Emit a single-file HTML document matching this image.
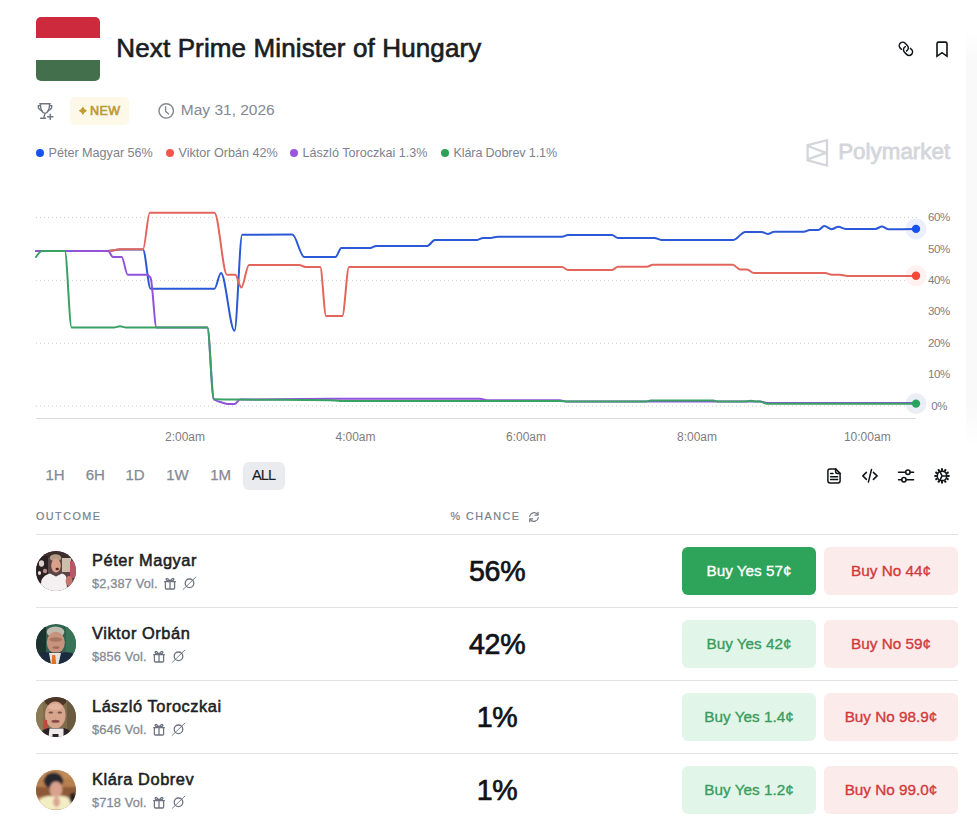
<!DOCTYPE html>
<html lang="en">
<head>
<meta charset="utf-8">
<title>Next Prime Minister of Hungary</title>
<style>
*{box-sizing:border-box;margin:0;padding:0}
html,body{width:977px;height:824px;overflow:hidden;background:#fff}
body{position:relative;font-family:"Liberation Sans",Arial,sans-serif;color:#1a1d23}
.abs{position:absolute}
svg{display:block}
.chart{position:absolute;left:0;top:0}
.flag{position:absolute;left:36px;top:17px;width:64px;height:64px;border-radius:5px;overflow:hidden}
.flag i{display:block;height:21.34px}
.title{position:absolute;left:116.3px;top:33.3px;font-size:26px;line-height:30px;font-weight:400;white-space:nowrap;letter-spacing:0.13px;-webkit-text-stroke:0.65px #1a1d23;color:#1a1d23}
.badge{position:absolute;left:70px;top:97px;width:59px;height:28px;border-radius:5px;background:#fdf8e7}
.badge span{position:absolute;left:20.1px;top:7px;font-size:12.5px;line-height:14px;font-weight:400;color:#b99a3c;letter-spacing:0.35px;-webkit-text-stroke:0.65px #b99a3c}
.date{position:absolute;left:180.8px;top:100.8px;font-size:15.5px;line-height:18px;color:#838893}
.legend{position:absolute;top:146px;font-size:12.6px;line-height:14px;color:#7d828e;white-space:nowrap}
.legend b{position:absolute;left:0;top:3px;width:8px;height:8px;border-radius:50%}
.legend span{position:absolute;left:12.5px;top:0}
.pm{position:absolute;left:838.2px;top:140.3px;font-size:22.4px;line-height:24px;font-weight:400;color:#d4d6db;letter-spacing:0px;-webkit-text-stroke:0.8px #d4d6db}
.tf{position:absolute;top:462px;width:40px;height:28px;font-size:15px;line-height:26.8px;text-align:center;color:#858a94;-webkit-text-stroke:0.25px currentColor}
.tf.on{background:#e9ebee;border-radius:6px;color:#1a1d23;width:42px;left:243px;font-size:14.6px;letter-spacing:-0.9px;text-indent:-0.9px;-webkit-text-stroke:0.15px #1a1d23}
.hdr{position:absolute;top:509.5px;font-size:10.8px;line-height:13px;letter-spacing:1.45px;color:#7a7f8b;font-weight:400;-webkit-text-stroke:0.2px #7a7f8b}
.hr{position:absolute;left:36px;width:922px;height:1px;background:#e3e3e5}
.row .name{position:absolute;left:92px;font-size:16.4px;line-height:19px;font-weight:400;color:#1b1e24;letter-spacing:0.55px;white-space:nowrap;-webkit-text-stroke:0.55px #1b1e24}
.row .vol{position:absolute;left:92px;font-size:12.8px;line-height:15px;color:#858a94;white-space:nowrap;letter-spacing:0.15px;-webkit-text-stroke:0.3px #858a94}
.row .pct{position:absolute;left:397.3px;width:200px;text-align:center;font-size:28.6px;line-height:32px;color:#111318;letter-spacing:-0.35px;text-indent:-0.35px;-webkit-text-stroke:0.7px #111318}
.btn{position:absolute;width:134px;height:48px;border-radius:6px;text-align:center;font-size:15.3px;line-height:48px;font-weight:400;-webkit-text-stroke:0.35px currentColor}
.yes{left:682px;background:#e1f6e9;color:#389c5e}
.yes.solid{background:#2ea35a;color:#fff}
.no{left:824px;background:#fbebea;color:#d3393c}
.row .vol{display:flex;align-items:flex-start}
.vol svg{display:block;flex:none;fill:none;stroke:#6f7481;stroke-width:1.3;stroke-linecap:round;stroke-linejoin:round}
.vol .gi{margin-left:6.6px;margin-top:0.7px}
.vol .si{margin-left:4.3px;margin-top:0.4px}
.av{position:absolute;left:36px;width:40px;height:40px;border-radius:50%;overflow:hidden}
</style>
</head>
<body>

<div class="abs" style="left:966px;top:28px;width:11px;height:420px;background:linear-gradient(to bottom,rgba(0,0,0,0),rgba(0,0,0,0.022) 8%,rgba(0,0,0,0.022) 90%,rgba(0,0,0,0))"></div>
<!-- Header -->
<div class="flag"><i style="background:#cd2a3e"></i><i style="background:#fff"></i><i style="background:#436f4d"></i></div>
<div class="title">Next Prime Minister of Hungary</div>

<svg class="abs" style="left:0;top:0" width="977" height="200" viewBox="0 0 977 200">
  <!-- link icon -->
  <g fill="none" stroke="#111317" stroke-width="1.5" stroke-linecap="round" stroke-linejoin="round">
    <path transform="translate(903.8,46.8) rotate(45)" d="M0,3.45 L-1.55,3.45 A3.45,3.45 0 0 1 -1.55,-3.45 L1.55,-3.45 A3.45,3.45 0 0 1 4.83,1.07"/>
    <path transform="translate(908,50.85) rotate(45)" d="M0,-3.45 L1.55,-3.45 A3.45,3.45 0 0 1 1.55,3.45 L-1.55,3.45 A3.45,3.45 0 0 1 -4.83,-1.07"/>
  </g>
  <!-- bookmark -->
  <path d="M937,56.3 V43.7 Q937,42.1 938.6,42.1 H945.4 Q947,42.1 947,43.7 V56.3 L942,52.7 Z" fill="none" stroke="#0f1114" stroke-width="1.6" stroke-linejoin="miter"/>
  <!-- trophy with plus -->
  <g fill="none" stroke="#707582" stroke-width="1.4" stroke-linecap="round" stroke-linejoin="round">
    <path d="M39.8,103.8 H50.2 M40.4,104 C40.4,109.8 42.6,113.4 45,113.4 C47.4,113.4 49.6,109.8 49.6,104"/>
    <path d="M40.2,105.6 H38.2 Q38,109.6 42.2,110.8 M49.8,105.6 H51.8 Q52,109.6 47.8,110.8"/>
    <path d="M45,113.6 L43.6,118.1 M40.6,118.2 H45.6"/>
    <path d="M47.6,116.7 H52.9 M50.25,114.1 V119.4"/>
  </g>
    <!-- clock -->
  <g fill="none" stroke="#838893" stroke-width="1.4" stroke-linecap="round" stroke-linejoin="round">
    <circle cx="166.2" cy="110.9" r="7.2"/>
    <path d="M165.6,106.6 V111.2 L168.6,113.9"/>
  </g>
  <!-- polymarket logo -->
  <g fill="none" stroke="#d4d6db" stroke-width="2.3" stroke-linejoin="miter">
    <path d="M807.6,145.2 L827,140.2 V165.6 L807.6,160.3 Z"/>
    <path d="M807.6,146 L826,152.8 L807.6,159.4" stroke-linejoin="round"/>
  </g>
</svg>

<div class="abs badge"><svg width="59" height="28" viewBox="70 97 59 28" style="position:absolute;left:0;top:0"><path d="M82.9,106.6 Q84.2,109.5 87.1,110.8 Q84.2,112.1 82.9,115 Q81.6,112.1 78.7,110.8 Q81.6,109.5 82.9,106.6 Z" fill="#bf9c36"/></svg><span>NEW</span></div>
<div class="date">May 31, 2026</div>

<div class="legend" style="left:36px"><b style="background:#1652f0"></b><span>Péter Magyar 56%</span></div>
<div class="legend" style="left:166px"><b style="background:#f0564a"></b><span>Viktor Orbán 42%</span></div>
<div class="legend" style="left:290px"><b style="background:#9b56e0"></b><span>László Toroczkai 1.3%</span></div>
<div class="legend" style="left:441px"><b style="background:#2f9f5a"></b><span style="letter-spacing:-0.13px">Klára Dobrev 1.1%</span></div>
<div class="pm">Polymarket</div>

<svg class="chart" width="977" height="460" viewBox="0 0 977 460">
<g stroke="#c9cbd0" stroke-width="1" stroke-dasharray="1 3"><line x1="36" x2="918" y1="217.4" y2="217.4"/><line x1="36" x2="918" y1="280.3" y2="280.3"/><line x1="36" x2="918" y1="343.2" y2="343.2"/><line x1="36" x2="918" y1="406.1" y2="406.1"/></g>
<line x1="36" x2="916" y1="418.5" y2="418.5" stroke="#dcdcdd" stroke-width="1"/>
<circle cx="916" cy="228.9" r="10.5" fill="#ebeffb"/><circle cx="916" cy="275.8" r="10.5" fill="#fef1ef"/><circle cx="916" cy="403.6" r="10.5" fill="#eceef5"/>
<g fill="none" stroke-width="2" stroke-linejoin="round" stroke-linecap="round"><path d="M36.0,251.0C60.0,251.0 84.0,251.0 108.0,251.0C112.0,251.0 116.0,249.4 120.0,249.4C127.7,249.4 135.3,249.4 143.0,249.4C145.5,249.4 148.1,288.7 150.6,288.7C171.9,288.7 193.2,288.7 214.5,288.7C216.7,288.7 218.8,273.0 221.0,273.0C225.5,273.0 230.0,330.8 234.5,330.8C237.1,330.8 239.6,234.8 242.2,234.8C258.9,234.7 275.6,234.6 292.3,234.6C296.3,234.6 300.2,256.9 304.2,256.9C314.6,256.9 325.1,256.9 335.5,256.9C337.5,256.9 339.4,248.0 341.4,248.0C351.0,248.0 360.7,248.0 370.3,248.0C372.3,248.0 374.2,245.9 376.2,245.9C393.2,245.9 410.2,245.9 427.2,245.9C429.8,245.9 432.3,240.1 434.9,240.1C449.0,240.0 463.1,240.0 477.2,239.9C479.1,239.9 481.1,237.9 483.0,237.9C485.6,237.9 488.2,237.9 490.8,237.9C493.1,237.9 495.3,236.7 497.6,236.7C519.1,236.7 540.5,236.7 562.0,236.7C564.0,236.7 566.0,235.0 568.0,235.0C582.7,235.0 597.3,235.0 612.0,235.0C614.0,235.0 616.0,237.9 618.0,237.9C630.2,237.9 642.3,237.9 654.5,237.9C656.8,237.9 659.0,239.9 661.3,239.9C685.3,239.9 709.4,239.9 733.4,239.9C737.4,239.9 741.3,231.9 745.3,231.9C750.7,231.9 756.0,231.9 761.4,231.9C763.5,231.9 765.6,234.0 767.7,234.0C769.9,234.0 772.0,231.8 774.2,231.8C784.1,231.8 794.0,231.8 803.9,231.8C805.9,231.8 807.8,230.0 809.8,230.0C812.6,230.0 815.5,230.0 818.3,230.0C820.3,230.0 822.3,226.0 824.3,226.0C826.7,226.0 829.2,229.2 831.6,229.2C833.9,229.2 836.1,226.8 838.4,226.8C840.8,226.8 843.1,228.9 845.5,228.9C855.4,228.9 865.4,228.9 875.3,228.9C877.5,228.9 879.8,226.6 882.0,226.6C884.0,226.6 886.1,229.2 888.1,229.2C897.4,229.2 906.7,229.1 916.0,228.9" stroke="#2a58d6"/><path d="M36.0,251.0C60.0,251.0 84.0,251.0 108.0,251.0C112.0,251.0 116.0,249.3 120.0,249.3C127.7,249.3 135.3,249.3 143.0,249.3C145.3,249.3 147.5,212.7 149.8,212.7C171.4,212.7 192.9,212.7 214.5,212.7C218.7,212.7 222.8,274.7 227.0,274.7C229.8,274.7 232.6,274.7 235.4,274.7C237.4,274.7 239.3,287.5 241.3,287.5C243.9,287.5 246.4,264.9 249.0,264.9C265.7,264.9 282.3,264.9 299.0,264.9C301.3,264.9 303.7,267.1 306.0,267.1C310.7,267.1 315.5,267.1 320.2,267.1C322.2,267.1 324.1,316.0 326.1,316.0C331.5,316.0 336.9,316.0 342.3,316.0C344.5,316.0 346.8,267.1 349.0,267.1C420.0,267.1 491.0,267.1 562.0,267.1C564.0,267.1 566.0,270.0 568.0,270.0C582.7,270.0 597.3,270.0 612.0,270.0C614.0,270.0 616.0,266.8 618.0,266.8C627.6,266.8 637.3,266.8 646.9,266.8C648.9,266.8 650.9,264.7 652.9,264.7C679.5,264.7 706.1,264.7 732.7,264.7C735.2,264.7 737.7,269.6 740.2,269.6C742.5,269.6 744.7,269.6 747.0,269.6C749.3,269.6 751.5,273.0 753.8,273.0C777.6,273.0 801.3,273.0 825.1,273.0C827.4,273.0 829.6,274.7 831.9,274.7C834.5,274.7 837.0,274.7 839.6,274.7C842.1,274.7 844.7,275.9 847.2,275.9C870.1,275.9 893.1,275.9 916.0,275.9" stroke="#e3665d"/><path d="M36.0,251.0C60.0,251.0 84.0,251.0 108.0,251.0C109.7,251.0 111.3,257.0 113.0,257.0C115.9,257.0 118.8,257.0 121.7,257.0C123.7,257.0 125.7,274.7 127.7,274.7C134.1,274.7 140.6,274.7 147.0,274.7C148.2,274.7 149.4,275.8 150.6,278.0C152.6,281.6 154.5,327.4 156.5,327.4C173.5,327.4 190.4,327.4 207.4,327.4C209.5,327.4 211.7,397.6 213.8,399.3C216.5,401.4 219.3,401.7 222.0,402.5C224.0,403.1 226.0,404.0 228.0,404.0C230.2,404.0 232.3,404.0 234.5,404.0C236.3,404.0 238.2,399.6 240.0,399.6C270.0,399.1 300.0,398.8 330.0,398.8C380.0,398.8 430.0,398.8 480.0,398.8C482.3,398.8 484.7,400.3 487.0,400.3C511.2,400.3 535.3,400.3 559.5,400.3C562.0,400.3 564.5,401.5 567.0,401.5C631.3,401.5 695.7,401.5 760.0,401.5C762.3,401.5 764.7,402.9 767.0,402.9C816.7,402.9 866.3,402.9 916.0,402.9" stroke="#9152dc"/><path d="M36.0,257.0C38.0,254.0 40.0,251.0 42.0,251.0C49.6,251.0 57.2,251.0 64.8,251.0C67.1,251.0 69.3,327.4 71.6,327.4C85.7,327.4 99.9,327.4 114.0,327.4C116.0,327.4 118.0,326.3 120.0,326.3C122.0,326.3 124.0,327.4 126.0,327.4C153.1,327.4 180.3,327.4 207.4,327.4C209.5,327.4 211.7,399.3 213.8,399.3C222.5,399.5 231.3,399.5 240.0,399.6C270.0,399.9 300.0,399.8 330.0,400.2C333.3,400.2 336.7,400.9 340.0,400.9C413.3,400.9 486.7,400.9 560.0,400.9C562.3,400.9 564.7,401.6 567.0,401.6C593.0,401.6 619.0,401.6 645.0,401.6C647.0,401.6 649.0,400.6 651.0,400.6C671.7,400.6 692.3,400.6 713.0,400.6C715.0,400.6 717.0,401.6 719.0,401.6C727.3,401.6 735.7,401.6 744.0,401.6C746.3,401.6 748.7,400.8 751.0,400.8C753.0,400.8 755.0,401.6 757.0,401.6C758.0,401.6 759.0,401.6 760.0,401.6C762.3,401.6 764.7,403.8 767.0,403.8C816.7,403.8 866.3,403.8 916.0,403.8" stroke="#38a163"/></g>
<circle cx="916" cy="228.9" r="4.2" fill="#1652f0"/>
<circle cx="916" cy="275.8" r="4.2" fill="#f4483a"/>
<circle cx="916" cy="403.6" r="4.2" fill="#2aa35d"/>
<g font-size="11.5" fill="#7d7d7f" letter-spacing="-0.35"><text x="928" y="221.0">60%</text><text x="928" y="252.5">50%</text><text x="928" y="283.9">40%</text><text x="928" y="315.4">30%</text><text x="928" y="346.8">20%</text><text x="928" y="378.3">10%</text><text x="931.2" y="409.7">0%</text></g>
<g font-size="12" fill="#7d7d7f"><text x="185" y="441" text-anchor="middle">2:00am</text><text x="355.5" y="441" text-anchor="middle">4:00am</text><text x="526" y="441" text-anchor="middle">6:00am</text><text x="697" y="441" text-anchor="middle">8:00am</text><text x="867.3" y="441" text-anchor="middle">10:00am</text></g>
</svg>

<!-- timeframe -->
<div class="tf" style="left:35px">1H</div>
<div class="tf" style="left:75.3px">6H</div>
<div class="tf" style="left:115px">1D</div>
<div class="tf" style="left:157.4px">1W</div>
<div class="tf" style="left:200.7px">1M</div>
<div class="tf on">ALL</div>

<svg class="abs" style="left:0;top:0" width="977" height="540" viewBox="0 0 977 540">
  <g fill="none" stroke="#111317" stroke-width="1.5" stroke-linecap="round" stroke-linejoin="round">
    <!-- doc -->
    <path d="M835.6,468.9 H830 Q827.9,468.9 827.9,471 V480.8 Q827.9,482.9 830,482.9 H838 Q840.1,482.9 840.1,480.8 V473.4 Z"/>
    <path d="M835.6,469 V471.6 Q835.6,473.4 837.4,473.4 H840" />
    <path d="M830.6,473.6 H833 M830.6,476.7 H837.6 M830.6,479.6 H837.6"/>
    <!-- code -->
    <path d="M866.4,472.4 L862.8,475.9 L866.4,479.4 M873.4,472.4 L877.1,475.9 L873.4,479.4 M871.5,469.5 L868.4,482.1"/>
    <!-- sliders -->
    <path d="M898.5,472.3 H905.7 M910.1,472.3 H913.6 M898.5,479.7 H901.7 M906.1,479.7 H913.6"/>
    <circle cx="907.9" cy="472.3" r="2.2"/>
    <circle cx="903.9" cy="479.7" r="2.2"/>
    <!-- gear -->
    <circle cx="942" cy="475.9" r="4.75" stroke-width="1.6"/>
    <path d="M939.9,471.4 L942,475.9 L939.9,480.4 M942,475.9 H946.8"/>
  </g>
  <g stroke="#111317" stroke-width="2">
    <path d="M947.20,475.90 L949.60,475.90 M946.50,478.50 L948.58,479.70 M944.60,480.40 L945.80,482.48 M942.00,481.10 L942.00,483.50 M939.40,480.40 L938.20,482.48 M937.50,478.50 L935.42,479.70 M936.80,475.90 L934.40,475.90 M937.50,473.30 L935.42,472.10 M939.40,471.40 L938.20,469.32 M942.00,470.70 L942.00,468.30 M944.60,471.40 L945.80,469.32 M946.50,473.30 L948.58,472.10"/>
  </g>
  <!-- refresh icon -->
  <g fill="none" stroke="#777c88" stroke-width="1.3" stroke-linecap="round" stroke-linejoin="round">
    <path d="M529.67,516.24 A4.4,4.4 0 0 1 537.37,514.17 M538.33,517.76 A4.4,4.4 0 0 1 530.63,519.83"/>
    <path d="M538,512.3 V515.2 H535.1 M529.8,521.7 V518.8 H532.7"/>
  </g>
</svg>

<div class="hdr" style="left:36px">OUTCOME</div>
<div class="hdr" style="left:450.5px">% CHANCE</div>
<div class="hr" style="top:534px"></div>

<!-- rows -->
<div class="row">
  <div class="av" style="top:551px">
    <svg width="40" height="40" viewBox="0 0 40 40"><defs><filter id="b1" x="-20%" y="-20%" width="140%" height="140%"><feGaussianBlur stdDeviation="0.7"/></filter></defs>
      <rect width="40" height="40" fill="#5a4546"/>
      <g filter="url(#b1)">
        <rect x="-2" y="-2" width="44" height="9" fill="#3c2e2e"/>
        <rect x="-2" y="5" width="14" height="27" fill="#2c2022"/>
        <ellipse cx="5.5" cy="12.5" rx="2.6" ry="3.2" fill="#ddd0d0"/>
        <ellipse cx="9" cy="20" rx="2.2" ry="2.2" fill="#b48a88"/>
        <ellipse cx="3.5" cy="22" rx="1.6" ry="2" fill="#e6dada"/>
        <rect x="26" y="7" width="9" height="14" fill="#cfbdac"/>
        <rect x="34" y="10" width="7" height="17" fill="#b65868"/>
        <ellipse cx="19.5" cy="6.8" rx="5.8" ry="3.6" fill="#b39c86"/>
        <ellipse cx="20" cy="14.6" rx="4.8" ry="7" fill="#dba08a"/>
        <ellipse cx="21.2" cy="18" rx="1.7" ry="1.3" fill="#5a2424"/>
        <path d="M4,40 L5.5,29 Q8,24 14,22.6 L20,25.5 L26,22.6 Q30,24 30.5,27 L31,40 Z" fill="#f4eff1"/>
        <ellipse cx="33" cy="30" rx="3.4" ry="5" fill="#c4766a"/>
      </g>
    </svg>
  </div>
  <div class="name" style="top:550.5px">Péter Magyar</div>
  <div class="vol" style="top:576.1px"><span>$2,387 Vol.</span><svg class="gi" width="13" height="13" viewBox="164 577 13 13"><path d="M164.6,581.7 H175.4 M165.4,581.7 V588 Q165.4,589 166.4,589 H173.6 Q174.6,589 174.6,588 V581.7 M170,581.7 V589"/><path d="M170,581.4 Q167.5,577.4 166.2,579 Q165.6,580.6 170,581.4 Q172.5,577.4 173.8,579 Q174.4,580.6 170,581.4"/></svg><svg class="si" width="15" height="15" viewBox="181.5 576.5 15 15"><circle cx="189" cy="583.8" r="4.3"/><path d="M182.6,590 L195.4,577.6" stroke-width="0.9"/></svg></div>
  <div class="pct" style="top:554.5px">56%</div>
  <div class="btn yes solid" style="top:547px">Buy Yes 57¢</div>
  <div class="btn no" style="top:547px">Buy No 44¢</div>
</div>
<div class="hr" style="top:607px"></div>

<div class="row">
  <div class="av" style="top:624px">
    <svg width="40" height="40" viewBox="0 0 40 40"><defs><filter id="b2" x="-20%" y="-20%" width="140%" height="140%"><feGaussianBlur stdDeviation="0.7"/></filter></defs>
      <rect width="40" height="40" fill="#2f634e"/>
      <g filter="url(#b2)">
        <rect x="-2" y="-2" width="12" height="44" fill="#1c332e"/>
        <rect x="30" y="-2" width="12" height="30" fill="#3a7358"/>
        <ellipse cx="19.5" cy="8" rx="8.8" ry="5.5" fill="#bfbab0"/>
        <ellipse cx="19.8" cy="18.5" rx="9" ry="10.8" fill="#c8937e"/>
        <ellipse cx="19.8" cy="15.5" rx="6.5" ry="2.2" fill="#a87462"/>
        <ellipse cx="20" cy="23.5" rx="3.5" ry="1.3" fill="#a06a5c"/>
        <path d="M-2,40 L-2,33 Q6,27 12,28.5 L27,28.5 Q34,27 42,33 L42,40 Z" fill="#1e2941"/>
        <path d="M13,29 L25,29 L22.5,40 L15,40 Z" fill="#e8e2dc"/>
        <path d="M16.2,31 L19.2,31 L20.2,40 L15.6,40 Z" fill="#e2722c"/>
      </g>
    </svg>
  </div>
  <div class="name" style="top:623.5px">Viktor Orbán</div>
  <div class="vol" style="top:649.1px"><span>$856 Vol.</span><svg class="gi" width="13" height="13" viewBox="164 577 13 13"><path d="M164.6,581.7 H175.4 M165.4,581.7 V588 Q165.4,589 166.4,589 H173.6 Q174.6,589 174.6,588 V581.7 M170,581.7 V589"/><path d="M170,581.4 Q167.5,577.4 166.2,579 Q165.6,580.6 170,581.4 Q172.5,577.4 173.8,579 Q174.4,580.6 170,581.4"/></svg><svg class="si" width="15" height="15" viewBox="181.5 576.5 15 15"><circle cx="189" cy="583.8" r="4.3"/><path d="M182.6,590 L195.4,577.6" stroke-width="0.9"/></svg></div>
  <div class="pct" style="top:627.5px">42%</div>
  <div class="btn yes" style="top:620px">Buy Yes 42¢</div>
  <div class="btn no" style="top:620px">Buy No 59¢</div>
</div>
<div class="hr" style="top:680px"></div>

<div class="row">
  <div class="av" style="top:697px">
    <svg width="40" height="40" viewBox="0 0 40 40"><defs><filter id="b3" x="-20%" y="-20%" width="140%" height="140%"><feGaussianBlur stdDeviation="0.7"/></filter></defs>
      <rect width="40" height="40" fill="#7e6d4d"/>
      <g filter="url(#b3)">
        <rect x="31" y="-2" width="11" height="44" fill="#6a5a40"/>
        <rect x="-2" y="-2" width="9" height="44" fill="#8b7a55"/>
        <ellipse cx="19.5" cy="4" rx="11" ry="5.5" fill="#4b3628"/>
        <ellipse cx="19.3" cy="18" rx="10.3" ry="13.5" fill="#d7a48c"/>
        <ellipse cx="19.3" cy="10" rx="7" ry="3" fill="#e2b49e"/>
        <ellipse cx="14.8" cy="15.6" rx="2.3" ry="1.1" fill="#7a5446"/>
        <ellipse cx="23.8" cy="15.6" rx="2.3" ry="1.1" fill="#7a5446"/>
        <ellipse cx="19.5" cy="24.2" rx="4" ry="1.5" fill="#8a4a44"/>
        <rect x="8" y="23" width="3.2" height="11" fill="#c04a3a"/>
        <path d="M4,40 L7,33 L12,31 L28,31 L33,33 L36,40 Z" fill="#2a2326"/>
        <path d="M12.5,40 L13.5,31.5 L27.5,31.5 L27.5,40 Z" fill="#f1eaea"/>
        <rect x="16.5" y="37" width="6" height="3" fill="#2a2326"/>
      </g>
    </svg>
  </div>
  <div class="name" style="top:696.5px">László Toroczkai</div>
  <div class="vol" style="top:722.1px"><span>$646 Vol.</span><svg class="gi" width="13" height="13" viewBox="164 577 13 13"><path d="M164.6,581.7 H175.4 M165.4,581.7 V588 Q165.4,589 166.4,589 H173.6 Q174.6,589 174.6,588 V581.7 M170,581.7 V589"/><path d="M170,581.4 Q167.5,577.4 166.2,579 Q165.6,580.6 170,581.4 Q172.5,577.4 173.8,579 Q174.4,580.6 170,581.4"/></svg><svg class="si" width="15" height="15" viewBox="181.5 576.5 15 15"><circle cx="189" cy="583.8" r="4.3"/><path d="M182.6,590 L195.4,577.6" stroke-width="0.9"/></svg></div>
  <div class="pct" style="top:700.5px">1%</div>
  <div class="btn yes" style="top:693px">Buy Yes 1.4¢</div>
  <div class="btn no" style="top:693px">Buy No 98.9¢</div>
</div>
<div class="hr" style="top:753px"></div>

<div class="row">
  <div class="av" style="top:770px">
    <svg width="40" height="40" viewBox="0 0 40 40"><defs><filter id="b4" x="-20%" y="-20%" width="140%" height="140%"><feGaussianBlur stdDeviation="0.8"/></filter></defs>
      <rect width="40" height="40" fill="#b7804f"/>
      <g filter="url(#b4)">
        <rect x="-2" y="-2" width="44" height="10" fill="#c18c5c"/>
        <rect x="-2" y="17" width="44" height="10" fill="#8d5a38"/>
        <ellipse cx="17.5" cy="10.5" rx="9.5" ry="8" fill="#26262e"/>
        <ellipse cx="20" cy="19.5" rx="6.3" ry="8" fill="#d9a28c"/>
        <path d="M1,40 L3,30 Q10,24 20,27 Q30,24 34,30 L36,40 Z" fill="#f3edc6"/>
        <ellipse cx="20.5" cy="32" rx="3.5" ry="5" fill="#dba690"/>
        <ellipse cx="37" cy="28" rx="3.5" ry="5.5" fill="#2a2020"/>
      </g>
    </svg>
  </div>
  <div class="name" style="top:769.5px">Klára Dobrev</div>
  <div class="vol" style="top:795.1px"><span>$718 Vol.</span><svg class="gi" width="13" height="13" viewBox="164 577 13 13"><path d="M164.6,581.7 H175.4 M165.4,581.7 V588 Q165.4,589 166.4,589 H173.6 Q174.6,589 174.6,588 V581.7 M170,581.7 V589"/><path d="M170,581.4 Q167.5,577.4 166.2,579 Q165.6,580.6 170,581.4 Q172.5,577.4 173.8,579 Q174.4,580.6 170,581.4"/></svg><svg class="si" width="15" height="15" viewBox="181.5 576.5 15 15"><circle cx="189" cy="583.8" r="4.3"/><path d="M182.6,590 L195.4,577.6" stroke-width="0.9"/></svg></div>
  <div class="pct" style="top:773.5px">1%</div>
  <div class="btn yes" style="top:766px">Buy Yes 1.2¢</div>
  <div class="btn no" style="top:766px">Buy No 99.0¢</div>
</div>



</body>
</html>
